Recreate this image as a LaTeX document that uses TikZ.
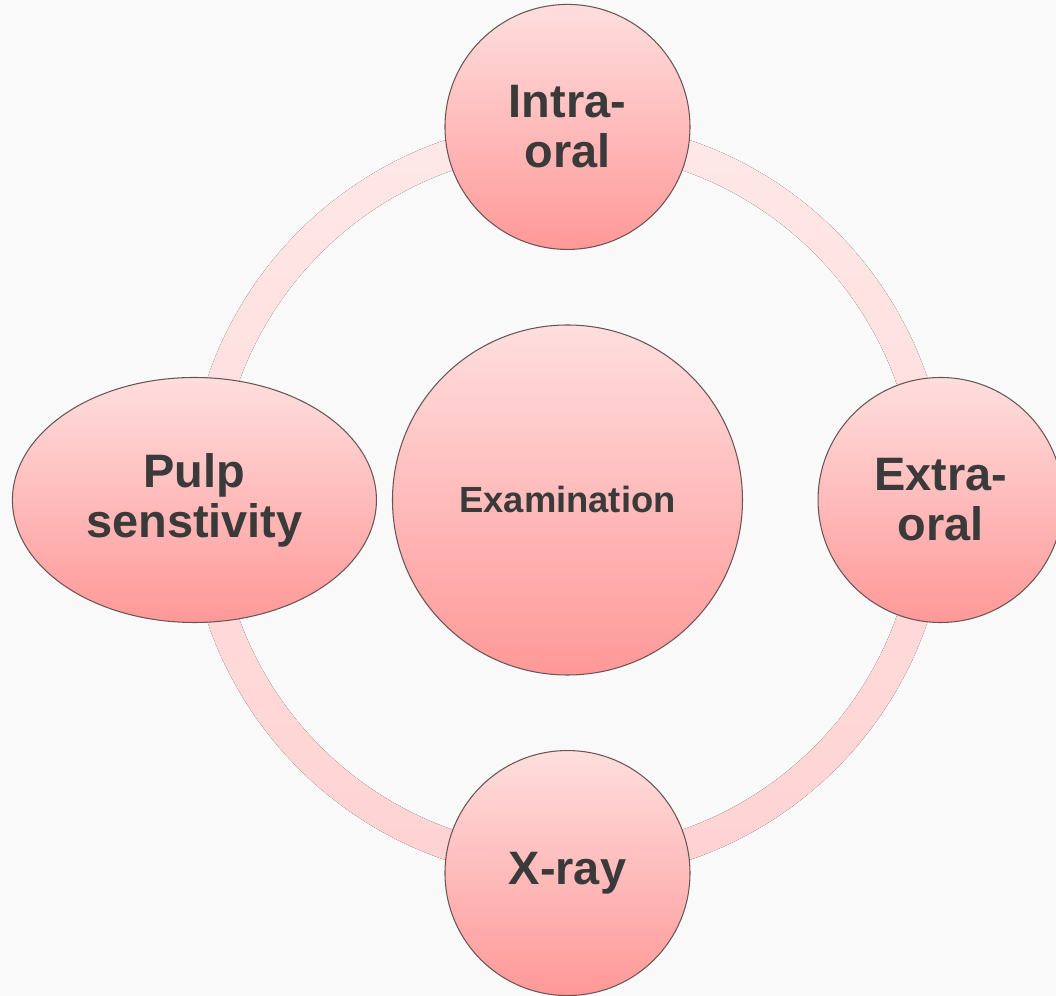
\documentclass[tikz,border=0pt]{standalone}
\usepackage{tikz}
\usepackage{xcolor}
\usepackage{fontspec}
\setmainfont{Liberation Sans}
\usetikzlibrary{positioning}
\usetikzlibrary{shapes.geometric}
\usetikzlibrary{backgrounds}
\definecolor{bgcolor}{RGB}{249, 249, 249}
\definecolor{topcolor}{RGB}{255, 222, 222}
\definecolor{botcolor}{RGB}{255, 152, 152}
\definecolor{ringtop}{RGB}{255, 232, 232}
\definecolor{ringbot}{RGB}{255, 210, 210}
\definecolor{edgecolor}{RGB}{105, 85, 85}
\definecolor{textcolor}{RGB}{58, 58, 58}
\tikzstyle{bubble} = [
	circle,
	draw=edgecolor,
	line width=0.6pt,
	top color=topcolor,
	bottom color=botcolor,
	text=textcolor,
	align=center,
	inner sep=0pt,
	font=\bfseries\fontsize{26.7}{28.4}\selectfont,
	minimum size=4.9cm,
]
\tikzstyle{hub} = [
	bubble,
	minimum size=7cm,
	font=\bfseries\fontsize{20.7}{22}\selectfont,
]
\tikzstyle{oval} = [
	bubble,
	ellipse,
	minimum width=7.28cm,
	minimum height=4.9cm,
]
\tikzstyle{ring} = [
	even odd rule,
	top color=ringtop,
	bottom color=ringbot,
]

\begin{document}
\begin{tikzpicture}[node distance=1.49cm]
	\useasboundingbox (-11.35,-9.92) rectangle (9.77,10.0);

	%
	% Nodes
	\node[hub] (exam) {Examination};
	\node[bubble, above=of exam] (intra) {Intra-\\oral};
	\node[bubble, right=of exam] (extra) {Extra-\\oral};
	\node[bubble, below=of exam] (xray) {X-ray};
	\node[oval, left=0.3cm of exam] (pulp) {Pulp\\senstivity};

	%
	% Ring behind the nodes
	\begin{scope}[on background layer]
		\fill[bgcolor] (-11.35,-9.92) rectangle (9.77,10.0);
		\fill[ring] (exam.center) circle (7.6cm) circle (6.98cm);
	\end{scope}
\end{tikzpicture}
\end{document}
